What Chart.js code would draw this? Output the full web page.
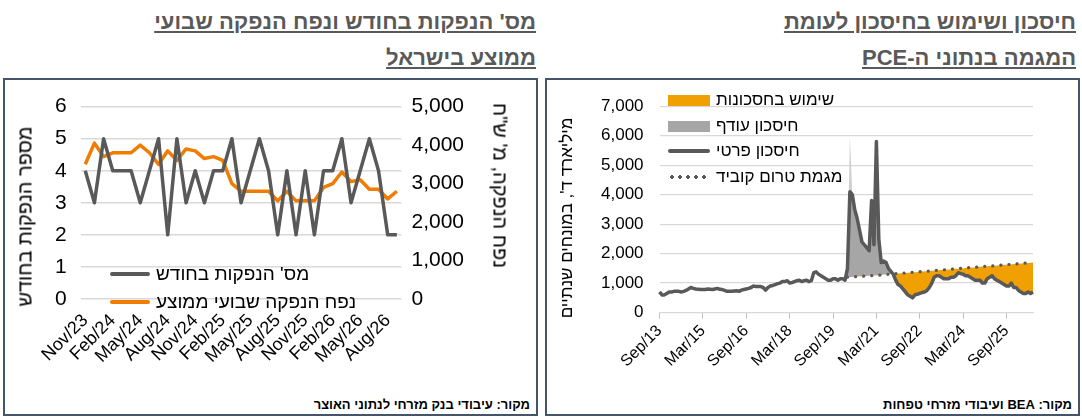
<!DOCTYPE html>
<html lang="he">
<head>
<meta charset="utf-8">
<script src="https://cdn.jsdelivr.net/npm/chart.js@4"></script>
<style>
  body { margin: 0; width: 1082px; height: 420px; background: #fff; font-family: "Liberation Sans", "DejaVu Sans", sans-serif; position: relative; overflow: hidden; }
  .titulo { position: absolute; top: 4px; direction: rtl; text-align: right; font-weight: bold; font-size: 22px; line-height: 36px; color: #595959; text-decoration: underline; }
  .caixa { position: absolute; top: 78px; height: 334px; border: 2px solid #44546a; }
  .fonte { position: absolute; bottom: 2px; right: 6px; direction: rtl; font-weight: bold; font-size: 13px; color: #000; }
  .leg { position: absolute; direction: rtl; font-size: 17px; color: #000; display: flex; align-items: center; gap: 6px; white-space: nowrap; }
  .amostra { display: inline-block; }
  .eixo { position: absolute; direction: rtl; white-space: nowrap; color: #000; transform-origin: center center; }
</style>
</head>
<body>

<div class="titulo" style="right:546px; width:530px;">מס' הנפקות בחודש ונפח הנפקה שבועי<br>ממוצע בישראל</div>
<div class="titulo" style="right:6px; width:530px;">חיסכון ושימוש בחיסכון לעומת<br>המגמה בנתוני ה-PCE</div>

<div class="caixa" style="left:3px; width:531px;">
  <canvas id="graficoEsq" width="531" height="316"></canvas>
  <div class="eixo" style="font-size:20px; left:-80px; top:125px; width:200px; text-align:center; transform:rotate(-90deg);">מספר הנפקות בחודש</div>
  <div class="eixo" style="font-size:20px; left:395px; top:94px; width:200px; text-align:center; transform:rotate(90deg);">נפח הנפקה, מ' ש"ח</div>
  <div class="leg" style="left:105px; top:183px; font-size:19px;"><span>מס' הנפקות בחודש</span><span class="amostra" style="width:40px;height:4px;background:#595959;border-radius:2px"></span></div>
  <div class="leg" style="left:105px; top:211px; font-size:19px;"><span>נפח הנפקה שבועי ממוצע</span><span class="amostra" style="width:40px;height:4px;background:#f07d00;border-radius:2px"></span></div>
  <div class="fonte">מקור: עיבודי בנק מזרחי לנתוני האוצר</div>
</div>

<div class="caixa" style="left:545px; width:531px;">
  <canvas id="graficoDir" width="531" height="316"></canvas>
  <div class="eixo" style="font-size:17px; left:-95px; top:128px; width:230px; text-align:center; transform:rotate(-90deg);">מיליארד ד', במונחים שנתיים</div>
  <div class="leg" style="left:121px; top:10px;"><span>שימוש בחסכונות</span><span class="amostra" style="width:42px;height:11px;background:#f0a000"></span></div>
  <div class="leg" style="left:121px; top:36px;"><span>חיסכון עודף</span><span class="amostra" style="width:42px;height:11px;background:#a6a6a6"></span></div>
  <div class="leg" style="left:121px; top:61px;"><span>חיסכון פרטי</span><span class="amostra" style="width:42px;height:4px;background:#595959;border-radius:2px"></span></div>
  <div class="leg" style="left:121px; top:87px;"><span>מגמת טרום קוביד</span><span class="amostra" style="width:42px;height:4px;background:radial-gradient(circle,#595959 1.6px,transparent 2px) 0 0/8px 4px"></span></div>
  <div class="fonte">מקור: BEA ועיבודי מזרחי טפחות</div>
</div>

<script>
// ---- grafico da esquerda (Israel) ----
var mesesEn = ['Jan','Feb','Mar','Apr','May','Jun','Jul','Aug','Sep','Oct','Nov','Dec'];
function gerarMeses(mesInicial, anoInicial, qtd) {
    let lista = [];
    for (let i = 0; i < qtd; i++) {
        let m = (mesInicial + i) % 12;
        let a = anoInicial + Math.floor((mesInicial + i) / 12);
        lista.push(mesesEn[m] + '/' + String(a).slice(2));
    }
    return lista;
}

var mesesIsrael = gerarMeses(10, 2023, 35); // Nov/23 .. Sep/26
var numeroEmissoes = [4,3,5,4,4,4,3,4,5,2,5,3,4,3,4,4,5,3,4,5,4,2,4,2,4,2,4,4,5,3,4,5,4,2,2];
var volumeSemanal = [3500,4050,3700,3800,3800,3800,4000,3800,3500,3850,3600,3900,3850,3650,3700,3600,3000,2800,2800,2800,2800,2550,2800,2550,2550,2550,2900,3000,3300,3050,3100,2850,2850,2600,2800];

// ---- grafico da direita (PCE) ----
var mesesPce = gerarMeses(8, 2013, 156); // Sep/13 .. Aug/26
var poupancaPessoal = [
    700,600,600,650,
    700,700,720,720,720,700,720,750,800,850,820,800,
    790,780,780,780,800,790,780,800,820,790,780,750,
    720,720,720,730,740,720,760,780,800,820,850,900,
    880,880,880,850,760,850,900,920,950,980,1000,1050,
    1050,1080,1000,1020,1050,1080,1100,1050,1080,1100,1050,1080,
    1350,1380,1300,1250,1200,1150,1100,1100,1150,1150,1100,1150,
    1150,1100,1500,4100,4000,3500,3200,2800,2400,2300,2200,2100,
    3800,2300,5800,2500,1700,1750,1700,1500,1400,1300,1100,950,
    900,800,700,600,550,500,600,620,650,680,700,750,
    850,1000,1200,1250,1250,1200,1150,1150,1150,1200,1200,1250,
    1350,1320,1300,1250,1250,1200,1150,1100,1100,1100,1000,1000,
    1150,1200,1250,1150,1100,1050,1000,950,900,900,1000,850,
    850,750,700,650,650,700,650,700
];
var tendenciaPreCovid = [
    1200,1205,1210,1215,1220,1225,1230,1235,1240,1245,1250,1255,
    1260,1265,1270,1280,1290,1300,1305,1310,1320,1325,1330,1340,
    1345,1350,1360,1365,1370,1380,1385,1390,1400,1405,1410,1420,
    1425,1430,1440,1445,1450,1460,1465,1470,1480,1485,1490,1500,
    1505,1510,1520,1525,1530,1540,1545,1550,1560,1565,1570,1580,
    1585,1590,1600,1605,1610,1620,1625,1630,1640,1645,1650,1660,
    1665,1670,1680,1685,1690,1700
];
var inicioTendencia = 78; // Mar/20
var picoAbr20 = { 78: 1500, 79: 6000, 80: 4000 };

var tendenciaCompleta = mesesPce.map((m, i) => i < inicioTendencia ? null : tendenciaPreCovid[i - inicioTendencia]);
var picoCompleto = mesesPce.map((m, i) => picoAbr20[i] !== undefined ? picoAbr20[i] : null);

var fonteTicks = { family: '"Liberation Sans", "DejaVu Sans", sans-serif' };

new Chart(document.getElementById('graficoEsq'), {
    type: 'line',
    data: {
        labels: mesesIsrael,
        datasets: [
            { label: "מס' הנפקות בחודש", data: numeroEmissoes, yAxisID: 'y', borderColor: '#595959', borderWidth: 3.5, borderJoinStyle: 'round', pointRadius: 0, tension: 0 },
            { label: 'נפח הנפקה שבועי ממוצע', data: volumeSemanal, yAxisID: 'y2', borderColor: '#f07d00', borderWidth: 3.5, borderJoinStyle: 'round', pointRadius: 0, tension: 0 }
        ]
    },
    options: {
        responsive: false,
        animation: false,
        layout: { padding: { top: 12, right: 62, bottom: 26, left: 36 } },
        plugins: { legend: { display: false }, tooltip: { enabled: false } },
        scales: {
            x: {
                offset: true,
                grid: { display: false },
                border: { display: false },
                ticks: {
                    autoSkip: false, maxRotation: 45, minRotation: 45, color: '#000', font: { ...fonteTicks, size: 18 },
                    callback: function (v, i) { return i % 3 == 0 ? this.getLabelForValue(v) : ''; }
                }
            },
            y: {
                min: 0, max: 6,
                ticks: { stepSize: 1, color: '#000', font: { ...fonteTicks, size: 21 }, padding: 14 },
                grid: { color: '#d9d9d9', lineWidth: 1.5, drawTicks: false },
                border: { display: false }
            },
            y2: {
                position: 'right',
                min: 0, max: 5000,
                ticks: { stepSize: 1000, color: '#000', font: { ...fonteTicks, size: 21 }, padding: 10 },
                grid: { display: false, drawTicks: false },
                border: { display: false }
            }
        }
    }
});

new Chart(document.getElementById('graficoDir'), {
    type: 'line',
    data: {
        labels: mesesPce,
        datasets: [
            {
                label: 'חיסכון פרטי', data: poupancaPessoal, borderColor: '#595959', borderWidth: 3.5, borderJoinStyle: 'round', pointRadius: 0, tension: 0,
                fill: { target: 1, above: '#a6a6a6', below: '#f0a000' }, order: 1
            },
            {
                label: 'מגמת טרום קוביד', data: tendenciaCompleta, borderColor: '#595959', borderWidth: 3.2, borderDash: [0.1, 8],
                borderCapStyle: 'round', pointRadius: 0, tension: 0, fill: false, order: 0
            },
            {
                label: 'פיק', data: picoCompleto, borderWidth: 0, pointRadius: 0, tension: 0,
                backgroundColor: '#cfcfcf', fill: { target: 0 }, order: 2
            }
        ]
    },
    options: {
        responsive: false,
        animation: false,
        layout: { padding: { top: 14, right: 45, bottom: 22, left: 38 } },
        plugins: { legend: { display: false }, tooltip: { enabled: false } },
        scales: {
            x: {
                offset: false,
                grid: { drawOnChartArea: false, tickLength: 6, color: (ctx) => ctx.index % 18 == 0 ? '#bfbfbf' : 'transparent' },
                border: { color: '#d9d9d9' },
                ticks: {
                    autoSkip: false, maxRotation: 45, minRotation: 45, color: '#000', font: { ...fonteTicks, size: 16 },
                    callback: function (v, i) { return i % 18 == 0 ? this.getLabelForValue(v) : ''; }
                }
            },
            y: {
                min: 0, max: 7000,
                ticks: { stepSize: 1000, color: '#000', font: { ...fonteTicks, size: 17 }, padding: 16, callback: (v) => v.toLocaleString('en-US') },
                grid: { color: '#d9d9d9', lineWidth: 1.2, drawTicks: false },
                border: { display: false }
            }
        }
    }
});
</script>
</body>
</html>
